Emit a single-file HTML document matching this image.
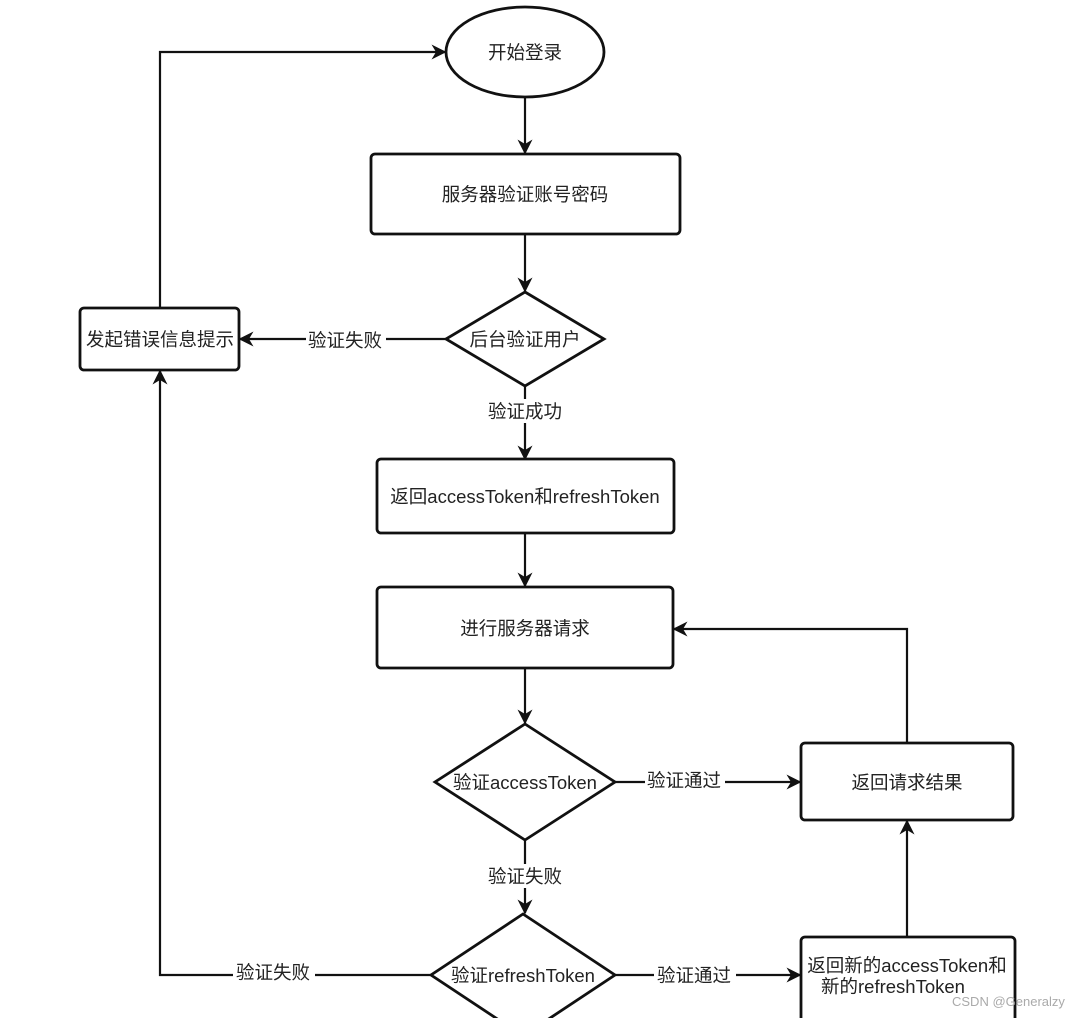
<!DOCTYPE html>
<html><head><meta charset="utf-8"><style>
html,body{margin:0;padding:0;background:#fff;}
svg{display:block;}
text{font-family:"Liberation Sans","Noto Sans CJK SC",sans-serif;font-size:18.5px;fill:#222;}
</style></head><body>
<svg width="1086" height="1018" viewBox="0 0 1086 1018" xmlns="http://www.w3.org/2000/svg">
<defs>
<marker id="a" viewBox="0 0 10 10" refX="9" refY="5" markerWidth="15" markerHeight="15" markerUnits="userSpaceOnUse" orient="auto">
<path d="M0,0 L10,5 L0,10 L3,5 z" fill="#111"/>
</marker>
</defs>
<g fill="none" stroke="#111" stroke-width="2.2">
<line x1="525" y1="97" x2="525" y2="153" marker-end="url(#a)"/>
<line x1="525" y1="234" x2="525" y2="291" marker-end="url(#a)"/>
<line x1="446" y1="339" x2="240" y2="339" marker-end="url(#a)"/>
<polyline points="160,308 160,52 445,52" marker-end="url(#a)"/>
<line x1="525" y1="386" x2="525" y2="459" marker-end="url(#a)"/>
<line x1="525" y1="533" x2="525" y2="586" marker-end="url(#a)"/>
<line x1="525" y1="668" x2="525" y2="723" marker-end="url(#a)"/>
<line x1="615" y1="782" x2="800" y2="782" marker-end="url(#a)"/>
<polyline points="907,743 907,629 674,629" marker-end="url(#a)"/>
<line x1="525" y1="840" x2="525" y2="913" marker-end="url(#a)"/>
<polyline points="431,975 160,975 160,371" marker-end="url(#a)"/>
<line x1="615" y1="975" x2="800" y2="975" marker-end="url(#a)"/>
<line x1="907" y1="937" x2="907" y2="821" marker-end="url(#a)"/>
</g>
<g fill="#fff" stroke="#111" stroke-width="2.8">
<ellipse cx="525" cy="52" rx="79" ry="45"/>
<rect x="371" y="154" width="309" height="80" rx="4"/>
<polygon points="525,292 604,339 525,386 446,339"/>
<rect x="80" y="308" width="159" height="62" rx="4"/>
<rect x="377" y="459" width="297" height="74" rx="4"/>
<rect x="377" y="587" width="296" height="81" rx="4"/>
<polygon points="525,724 615,782 525,840 435,782"/>
<rect x="801" y="743" width="212" height="77" rx="4"/>
<polygon points="523,914 615,975 523,1036 431,975"/>
<rect x="801" y="937" width="214" height="90" rx="4"/>
</g>
<g fill="#fff">
<rect x="306" y="328" width="80" height="24"/>
<rect x="486" y="399" width="78" height="24"/>
<rect x="645" y="769" width="80" height="24"/>
<rect x="486" y="864" width="80" height="24"/>
<rect x="233" y="961" width="82" height="24"/>
<rect x="654" y="963" width="82" height="24"/>
</g>
<g text-anchor="middle">
<text x="525" y="59">开始登录</text>
<text x="525" y="201">服务器验证账号密码</text>
<text x="525" y="346">后台验证用户</text>
<text x="160" y="346">发起错误信息提示</text>
<text x="345" y="347">验证失败</text>
<text x="525" y="418">验证成功</text>
<text x="525" y="503">返回accessToken和refreshToken</text>
<text x="525" y="635">进行服务器请求</text>
<text x="525" y="789">验证accessToken</text>
<text x="684" y="787">验证通过</text>
<text x="907" y="789">返回请求结果</text>
<text x="525" y="883">验证失败</text>
<text x="523" y="982">验证refreshToken</text>
<text x="273" y="979">验证失败</text>
<text x="694" y="982">验证通过</text>
<text x="907" y="972">返回新的accessToken和</text>
<text x="893" y="993">新的refreshToken</text>
</g>
<text x="952" y="1006" style="font-size:13px;fill:#aaa;">CSDN @Generalzy</text>
</svg>
</body></html>
